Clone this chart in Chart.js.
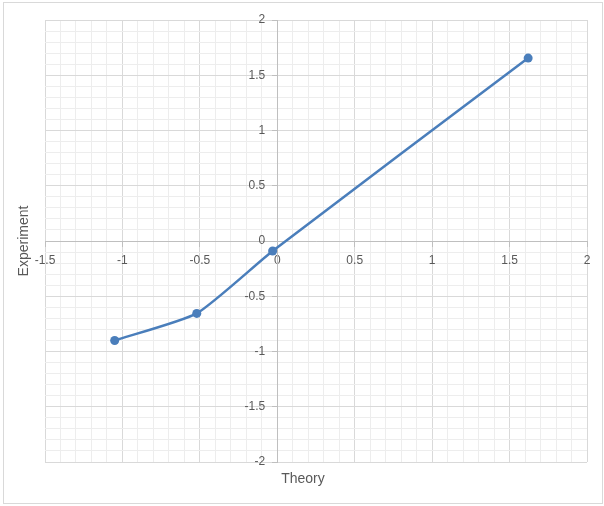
<!DOCTYPE html>
<html>
<head>
<meta charset="utf-8">
<script src="https://cdn.jsdelivr.net/npm/chart.js@4/dist/chart.umd.min.js"></script>
<style>
html,body{margin:0;padding:0;background:#fff;}
#wrap{width:604px;height:506px;position:relative;}
</style>
</head>
<body>
<div id="wrap"><canvas id="c" width="604" height="506"></canvas></div>
<script>
const theory = [-1.05, -0.52, -0.03, 1.62];
const experiment = [-0.9, -0.655, -0.09, 1.655];
const xTitle = "Theory";
const yTitle = "Experiment";
const xRange = [-1.5, 2];
const yRange = [-2, 2];

const points = theory.map((t, i) => ({x: t, y: experiment[i]}));

function isMajor(v) { return Math.abs(v * 2 - Math.round(v * 2)) < 1e-6; }
function gridColor(ctx) {
  if (!ctx.tick) return '#ededed';
  return isMajor(ctx.tick.value) ? '#d9d9d9' : '#ededed';
}
function tickColor(ctx) {
  if (!ctx.tick) return 'rgba(0,0,0,0)';
  return isMajor(ctx.tick.value) ? '#bfbfbf' : 'rgba(0,0,0,0)';
}
function fmt(v) {
  if (!isMajor(v)) return '';
  const r = Math.round(v * 10) / 10;
  return String(Object.is(r, -0) ? 0 : r);
}

const FONT = "'Liberation Sans', Arial, sans-serif";

const frame = {
  id: 'frame',
  beforeDraw(chart) {
    const c = chart.ctx;
    c.save();
    c.fillStyle = '#fff';
    c.fillRect(0, 0, chart.width, chart.height);
    c.strokeStyle = '#d9d9d9';
    c.lineWidth = 1;
    c.strokeRect(3.5, 2.5, 599, 501);
    c.restore();
    const ys = chart.scales.y;
    if (ys && ys.getLabelItems) {
      const items = ys.getLabelItems(chart.chartArea);
      if (!items._shifted) {
        items.forEach(it => { it.options.translation[0] -= 12; });
        items._shifted = true;
      }
    }
  },
  afterDraw(chart) {
    const c = chart.ctx;
    const a = chart.chartArea;
    c.save();
    c.fillStyle = '#595959';
    c.font = '14px ' + FONT;
    c.textAlign = 'center';
    c.textBaseline = 'middle';
    c.fillText(xTitle, 303, 479);
    c.translate(24, (a.top + a.bottom) / 2);
    c.rotate(-Math.PI / 2);
    c.fillText(yTitle, 0, 0);
    c.restore();
  }
};

new Chart(document.getElementById('c'), {
  type: 'scatter',
  data: {
    datasets: [{
      data: points,
      showLine: true,
      tension: 0.18,
      borderColor: '#4a7ebb',
      backgroundColor: '#4a7ebb',
      borderWidth: 2.5,
      pointRadius: 4.5,
      pointBorderWidth: 0,
      pointHoverRadius: 4.5
    }]
  },
  options: {
    responsive: false,
    animation: false,
    devicePixelRatio: 1,
    layout: {padding: {left: 45, top: 20, right: 17, bottom: 44}},
    plugins: {legend: {display: false}, tooltip: {enabled: false}},
    scales: {
      x: {
        type: 'linear',
        min: xRange[0], max: xRange[1],
        position: {y: 0},
        grid: {color: gridColor, lineWidth: 1, drawTicks: true, tickLength: 5, tickColor: tickColor},
        border: {color: '#bfbfbf', width: 1},
        ticks: {
          stepSize: 0.1, autoSkip: false, maxRotation: 0, minRotation: 0,
          padding: 7, color: '#595959', font: {family: FONT, size: 12},
          callback: (v) => fmt(v)
        }
      },
      y: {
        type: 'linear',
        min: yRange[0], max: yRange[1],
        position: {x: 0},
        grid: {color: gridColor, lineWidth: 1, drawTicks: true, tickLength: 5, tickColor: tickColor},
        border: {color: '#bfbfbf', width: 1},
        ticks: {
          stepSize: 0.1, autoSkip: false,
          padding: 8, color: '#595959', font: {family: FONT, size: 12},
          callback: (v) => fmt(v)
        }
      }
    }
  },
  plugins: [frame]
});
</script>
</body>
</html>
